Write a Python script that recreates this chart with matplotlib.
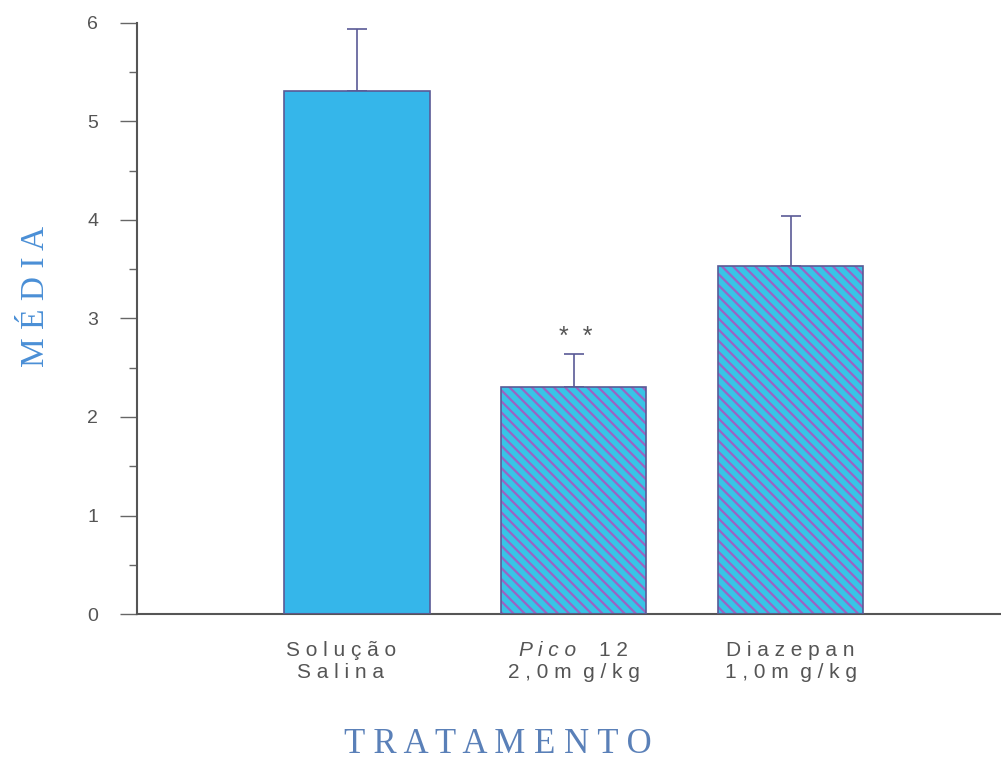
import matplotlib
matplotlib.use("Agg")
import matplotlib.pyplot as plt
from matplotlib.ticker import MultipleLocator

# group means and SEM
positions = [1, 2, 3]
means = [5.31, 2.30, 3.53]
errors = [0.63, 0.34, 0.51]
line1 = ["S o l u ç ã o", None, "D i a z e p a n"]
line2 = ["S a l i n a", "2 , 0 m  g / k g", "1 , 0 m  g / k g"]
label_shift = [-0.074, 0.0, 0.0]
hatches = ["", "\\\\\\", "\\\\\\"]

plt.rcParams["font.family"] = ["Liberation Sans", "DejaVu Sans"]
plt.rcParams["hatch.linewidth"] = 1.6

fig = plt.figure(figsize=(10.01, 7.6), dpi=100)
ax = fig.add_axes([0.137, 0.192, 0.863, 0.778])

bar_colors = ["#35b6ea", "#38c4e6", "#38c4e6"]
hatch_color = "#9a64c4"
edge = "#5a5a96"
for x, m, h, c in zip(positions, means, hatches, bar_colors):
    # fill + hatch first (hatch takes the edge colour), outline on top
    ax.bar(x, m, width=0.67, color=c, edgecolor=hatch_color, linewidth=0,
           hatch=h, zorder=2)
    ax.bar(x, m, width=0.67, fill=False, edgecolor=edge, linewidth=1.2,
           zorder=3)
ax.errorbar(positions, means, yerr=[[0, 0, 0], errors], fmt="none",
            ecolor=edge, elinewidth=1.2, capsize=7, capthick=1.2, zorder=1)

ax.text(2.01, means[1] + errors[1] + 0.05, "*  *", ha="center", va="bottom",
        fontsize=18, color="#555555")

ax.set_xlim(-0.014, 3.97)
ax.set_ylim(0, 6)
ax.set_xticks([])
ax.yaxis.set_major_locator(MultipleLocator(1))
ax.yaxis.set_minor_locator(MultipleLocator(0.5))
ax.tick_params(axis="y", which="major", length=12, width=1, color="#666666",
               labelsize=14, labelcolor="#555555", pad=16)
ax.tick_params(axis="y", which="minor", length=6, width=1, color="#666666")
for s in ["top", "right"]:
    ax.spines[s].set_visible(False)
for s in ["left", "bottom"]:
    ax.spines[s].set_color("#555555")
    ax.spines[s].set_linewidth(1.5)

# category labels under the bars
lbl = dict(fontsize=15, color="#555555", va="top")
for x, a, b, dx in zip(positions, line1, line2, label_shift):
    if a is not None:
        ax.text(x + dx, -0.27, a, ha="center", **lbl)
    ax.text(x + dx, -0.5, b, ha="center", **lbl)
ax.text(2.01, -0.27, "P i c o", ha="right", style="italic", **lbl)
ax.text(2.115, -0.27, "1 2", ha="left", **lbl)

fig.text(0.036, 0.61, "M É D I A", rotation=90, ha="center", va="center",
         fontsize=24, family="Liberation Serif", color="#4a8fd6")
fig.text(0.497, 0.02, "T R A T A M E N T O", ha="center", va="center",
         fontsize=25, family="Liberation Serif", color="#5a80b8")

fig.savefig("out.png", dpi=100)
